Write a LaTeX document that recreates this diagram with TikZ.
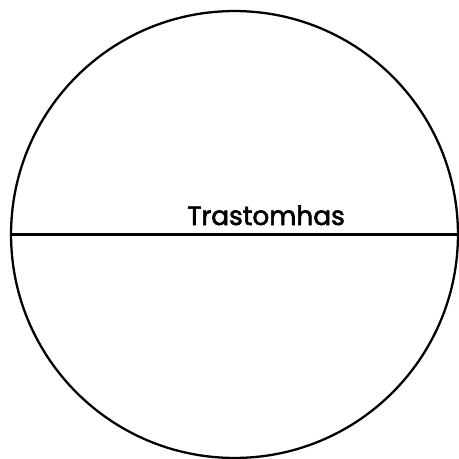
\documentclass[tikz,border=0pt]{standalone}
\usepackage{fontspec}
\setmainfont{Poppins}
\newfontfamily\labelfont[FakeBold=2.2]{Poppins}
\usetikzlibrary{positioning}

\begin{document}
\begin{tikzpicture}[
  x=0.02cm, y=-0.02cm,
  outline/.style={draw, line width=1.3pt},
  disc/.style={outline, circle, inner sep=0pt, minimum size=8.94cm},
  tag/.style={font=\labelfont\fontsize{15}{18}\selectfont, inner sep=0pt}
]
\useasboundingbox (0,0) rectangle (459,459);

\node[disc] (wheel) at (234.5,234.5) {};
\draw[outline] (wheel.west) -- (wheel.east);

\node[tag, anchor=base] (name) at (266,225) {Trastomhas};

\end{tikzpicture}
\end{document}
